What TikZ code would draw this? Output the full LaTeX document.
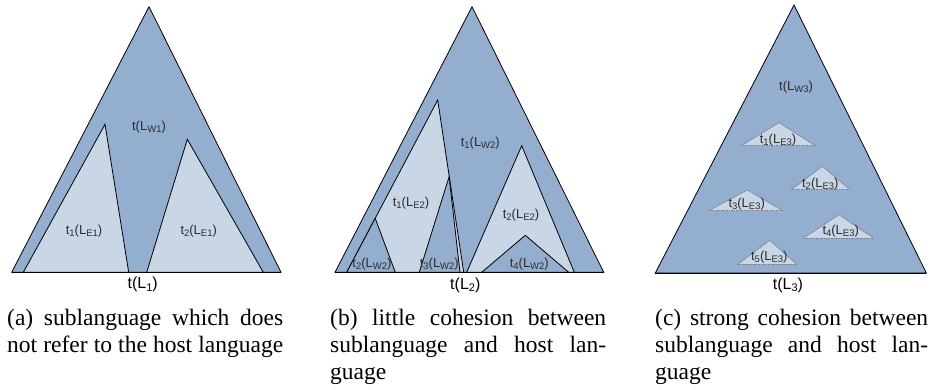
\documentclass[tikz,border=0pt]{standalone}
\usepackage{fontspec}
\setmainfont{Liberation Serif}
\setsansfont{Liberation Sans}
\usepackage{graphicx}
\definecolor{outerblue}{RGB}{148,174,208}
\definecolor{lightblue}{RGB}{201,214,230}
\definecolor{labelgray}{RGB}{45,45,45}
\definecolor{smalledge}{RGB}{120,125,135}
\newcommand\lsub[1]{\raisebox{-0.3ex}{\fontsize{9.5}{9.5}\selectfont #1}}
\newcommand\bsub[1]{\raisebox{-0.3ex}{\fontsize{11}{11}\selectfont #1}}
\newcommand\capfill[2]{\makebox[#1][s]{#2}}
\tikzset{
  outertri/.style={fill=outerblue, draw=black, line width=0.8pt},
  innertri/.style={fill=lightblue, draw=black, line width=0.8pt},
  midtri/.style={fill=outerblue, draw=black, line width=0.8pt},
  smalltri/.style={draw=smalledge, line width=0.5pt},
  smallbase/.style={draw=smalledge, line width=0.6pt, dash pattern=on 1.5pt off 1pt},
  baseline/.style={draw=black, line width=0.9pt},
  lbl/.style={font=\sffamily\fontsize{13}{13}\selectfont, text=labelgray, inner sep=0pt},
  blbl/.style={font=\sffamily\fontsize{16}{16}\selectfont, text=black, inner sep=0pt},
  capline/.style={font=\fontsize{23.5}{26}\selectfont, inner sep=0pt, anchor=base west}
}
\begin{document}
\begin{tikzpicture}[x=1pt,y=-1pt]
\useasboundingbox (0,0) rectangle (933,390);
\fill[white] (0,0) rectangle (933,390);
% ---------- panel (a)
\draw[outertri] (11.7,272.3) -- (149,6.7) -- (281,272.3) -- cycle;
\draw[innertri] (23.3,272.3) -- (105,124.3) -- (128.7,272.3) -- cycle;
\draw[innertri] (146.7,272.3) -- (187.3,139.3) -- (263.3,272.3) -- cycle;
\draw[baseline] (11.7,272.3) -- (281,272.3);
\node[lbl] (wa) at (149,127) {t(L\lsub{W1})};
\node[lbl] (e1a) at (84,231) {t\lsub{1}(L\lsub{E1})};
\node[lbl] (e2a) at (198.7,231) {t\lsub{2}(L\lsub{E1})};
\node[blbl] (la) at (142.7,284.5) {t(L\bsub{1})};
% ---------- panel (b)
\draw[outertri] (335,272.3) -- (472,6.7) -- (603.7,272.3) -- cycle;
\draw[innertri] (346.7,272.3) -- (437.7,100) -- (463.7,272.3) -- cycle;
\draw[midtri] (346.7,272.3) -- (375.2,218.3) -- (395.3,272.3) -- cycle;
\draw[midtri] (419.3,272.3) -- (449.1,176.7) -- (460,272.3) -- cycle;
\draw[innertri] (466.7,272.3) -- (521.7,145.7) -- (574.3,272.3) -- cycle;
\draw[midtri] (481.7,272.3) -- (525.3,235.3) -- (568.7,272.3) -- cycle;
\draw[baseline] (335,272.3) -- (603.7,272.3);
\node[lbl] (wb) at (480.3,142.7) {t\lsub{1}(L\lsub{W2})};
\node[lbl] (e1b) at (411,202.7) {t\lsub{1}(L\lsub{E2})};
\node[lbl] (e2b) at (521,215) {t\lsub{2}(L\lsub{E2})};
\node[lbl] (w2b) at (372,264) {t\lsub{2}(L\lsub{W2})};
\node[lbl] (w3b) at (439.3,264) {t\lsub{3}(L\lsub{W2})};
\node[lbl] (w4b) at (529.3,264) {t\lsub{4}(L\lsub{W2})};
\node[blbl] (lb) at (465.3,285) {t(L\bsub{2})};
% ---------- panel (c)
\draw[outertri] (655.3,273) -- (794,5) -- (926.3,273) -- cycle;
\draw[baseline] (655.3,273) -- (926.3,273);
\foreach \n/\lx/\ax/\ay/\rx/\by in {1/741.3/779/122.7/815.3/145.7,
                                  2/791.3/822.3/166.3/850/189.7,
                                  3/708.7/747.3/190/782.7/210.7,
                                  4/803.7/839/214.7/873.3/238,
                                  5/738.3/769.7/240.3/796.3/264}{
  \fill[lightblue] (\lx,\by) -- (\ax,\ay) -- (\rx,\by) -- cycle;
  \draw[smalltri] (\lx,\by) -- (\ax,\ay) -- (\rx,\by);
  \draw[smallbase] (\lx,\by) -- (\rx,\by);
}
\node[lbl] (wc) at (796,87.3) {t(L\lsub{W3})};
\node[lbl] (e1c) at (778,140) {t\lsub{1}(L\lsub{E3})};
\node[lbl] (e2c) at (820.3,184) {t\lsub{2}(L\lsub{E3})};
\node[lbl] (e3c) at (746.7,204) {t\lsub{3}(L\lsub{E3})};
\node[lbl] (e4c) at (840.7,231) {t\lsub{4}(L\lsub{E3})};
\node[lbl] (e5c) at (769.3,257.3) {t\lsub{5}(L\lsub{E3})};
\node[blbl] (lc) at (788,285) {t(L\bsub{3})};
% ---------- captions
\node[capline] (ca1) at (7,325.5) {\capfill{276pt}{(a) sublanguage which does}};
\node[capline] (ca2) at (7,352.5) {\capfill{276pt}{not refer to the host language}};
\node[capline] (cb1) at (330,325.5) {\capfill{276pt}{(b) little cohesion between}};
\node[capline] (cb2) at (330,352.5) {\capfill{276pt}{sublanguage and host lan-}};
\node[capline] (cb3) at (330,379) {guage};
\node[capline] (cc1) at (655,325.5) {\capfill{273pt}{(c) strong cohesion between}};
\node[capline] (cc2) at (655,352.5) {\capfill{273pt}{sublanguage and host lan-}};
\node[capline] (cc3) at (655,379) {guage};
\end{tikzpicture}
\end{document}
